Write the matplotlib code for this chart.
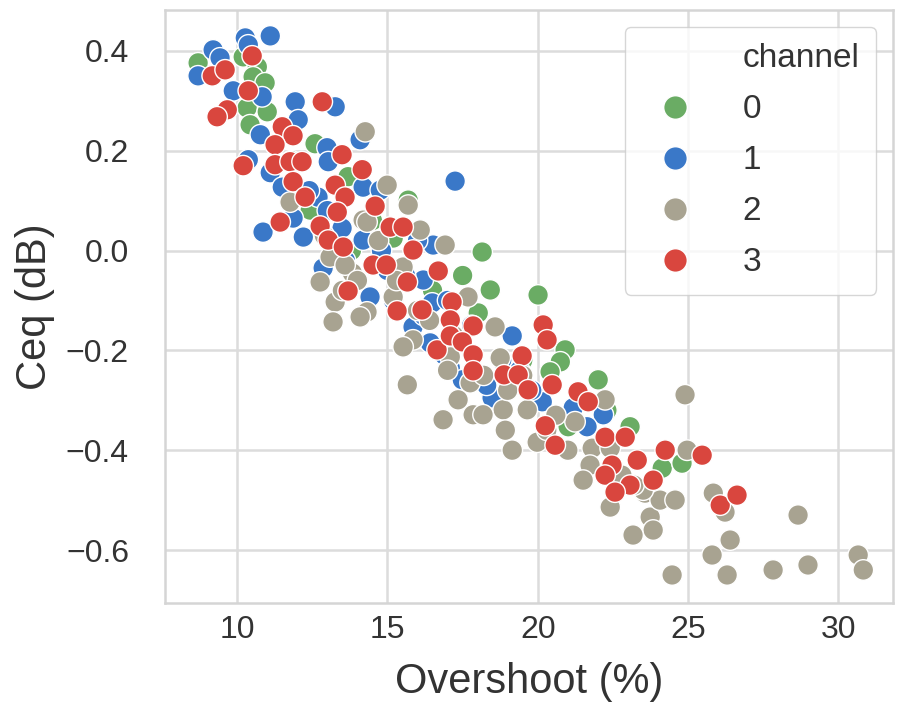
import matplotlib
matplotlib.use("Agg")
import matplotlib.pyplot as plt
from matplotlib.lines import Line2D
import pandas as pd
import seaborn as sns

# overshoot (%) and Ceq (dB), one pair of lists per channel
ch0_x = [8.70, 10.20, 10.67, 10.53, 10.93, 10.33, 11.00, 10.43, 12.59, 13.69, 12.43, 15.19,
         15.69, 18.15, 18.42, 18.02, 20.01, 20.91, 20.75, 20.41, 22.01, 21.01, 23.07, 24.14,
         24.80, 14.5, 16.5, 17.5, 19.5, 13.8, 22.3, 11.8, 16.0]
ch0_y = [0.376, 0.388, 0.368, 0.348, 0.336, 0.286, 0.278, 0.252, 0.214, 0.148, 0.081, 0.025,
         0.101, -0.003, -0.079, -0.125, -0.089, -0.199, -0.223, -0.243, -0.259, -0.353, -0.353, -0.436,
         -0.426, 0.06, -0.08, -0.05, -0.22, 0.0, -0.32, 0.18, 0.02]

ch1_x = [11.10, 10.27, 10.37, 9.20, 9.43, 8.70, 9.87, 10.83, 11.93, 12.03, 13.26, 10.77,
         12.99, 14.09, 10.37, 13.03, 11.10, 11.50, 12.69, 14.19, 14.76, 11.86, 10.86, 12.20,
         13.49, 14.19, 12.86, 16.52, 16.19, 14.42, 16.49, 15.85, 16.42, 17.25, 19.15, 17.09,
         17.49, 18.48, 20.08, 21.18, 22.18, 21.64, 20.15,
         14.8, 15.6, 16.0, 13.6, 17.8, 18.8, 19.8, 15.2, 17.0,
         16.2, 16.9, 18.3, 19.4, 15.0, 13.0, 12.4]
ch1_y = [0.430, 0.426, 0.412, 0.402, 0.386, 0.350, 0.320, 0.308, 0.298, 0.262, 0.288, 0.232,
         0.206, 0.222, 0.182, 0.178, 0.156, 0.127, 0.107, 0.127, 0.121, 0.065, 0.037, 0.027,
         0.045, 0.021, -0.035, 0.011, -0.059, -0.093, -0.105, -0.153, -0.185, 0.139, -0.171, -0.235,
         -0.259, -0.295, -0.299, -0.315, -0.329, -0.353, -0.303,
         0.0, -0.05, 0.02, -0.02, -0.15, -0.22, -0.28, -0.10, -0.10,
         -0.13, -0.21, -0.27, -0.24, -0.04, 0.08, 0.12]

ch2_x = [14.26, 14.99, 11.76, 15.69, 14.19, 14.32, 16.09, 16.92, 13.09, 13.83, 13.59, 12.76,
         15.52, 13.26, 15.19, 14.32, 14.09, 13.19, 15.85, 15.52, 17.68, 18.58, 18.75, 17.09,
         17.75, 15.66, 17.35, 18.85, 19.65, 16.85, 17.85, 18.18, 18.92, 19.98, 19.15, 22.24,
         21.24, 21.81, 22.41, 21.74, 21.51, 22.41, 23.74, 23.57, 24.07, 24.57, 24.97, 24.90,
         23.51, 23.84, 23.17, 24.47, 25.84, 26.23, 26.40, 25.80, 26.30, 27.83, 28.99, 28.66,
         30.66, 30.83,
         16.0, 17.2, 18.2, 19.5, 20.6, 21.0, 22.8, 23.2,
         12.9, 13.5, 14.0, 14.7, 15.3, 16.4, 17.0, 19.0, 20.3]
ch2_y = [0.238, 0.131, 0.097, 0.091, 0.061, 0.057, 0.041, 0.011, -0.013, -0.045, -0.029, -0.063,
         -0.033, -0.103, -0.093, -0.123, -0.133, -0.143, -0.179, -0.193, -0.093, -0.153, -0.215, -0.213,
         -0.265, -0.269, -0.299, -0.319, -0.319, -0.339, -0.329, -0.329, -0.360, -0.384, -0.400, -0.299,
         -0.343, -0.396, -0.396, -0.430, -0.460, -0.514, -0.534, -0.486, -0.500, -0.500, -0.400, -0.289,
         -0.480, -0.560, -0.570, -0.650, -0.486, -0.524, -0.580, -0.610, -0.650, -0.640, -0.630, -0.530,
         -0.610, -0.640,
         -0.12, -0.17, -0.25, -0.25, -0.33, -0.40, -0.45, -0.47,
         0.03, -0.08, -0.06, 0.02, -0.06, -0.14, -0.24, -0.28, -0.36]

ch3_x = [9.17, 9.60, 10.50, 10.37, 9.67, 9.33, 12.83, 11.50, 11.86, 11.26, 13.49, 10.20,
         11.26, 11.76, 12.16, 14.16, 11.86, 13.26, 13.59, 12.26, 14.59, 13.33, 11.43, 12.76,
         13.03, 13.53, 15.09, 15.52, 15.85, 13.69, 14.52, 14.96, 15.66, 16.69, 15.32, 16.15,
         17.15, 17.09, 17.85, 16.65, 17.09, 17.49, 17.85, 17.85, 19.48, 20.18, 20.31, 18.88,
         19.35, 19.68, 20.48, 21.34, 21.68, 20.25, 20.58, 22.24, 22.91, 22.47, 23.31, 24.24,
         25.47, 22.24, 23.07, 23.84, 22.57, 26.07, 26.63]
ch3_y = [0.350, 0.362, 0.390, 0.320, 0.282, 0.268, 0.298, 0.248, 0.230, 0.212, 0.192, 0.170,
         0.172, 0.178, 0.178, 0.162, 0.138, 0.131, 0.107, 0.107, 0.089, 0.077, 0.057, 0.049,
         0.021, 0.007, 0.047, 0.047, 0.001, -0.081, -0.029, -0.029, -0.063, -0.041, -0.121, -0.119,
         -0.103, -0.139, -0.151, -0.199, -0.171, -0.183, -0.209, -0.241, -0.211, -0.149, -0.179, -0.249,
         -0.249, -0.279, -0.269, -0.283, -0.303, -0.351, -0.390, -0.374, -0.374, -0.430, -0.420, -0.400,
         -0.410, -0.450, -0.470, -0.460, -0.484, -0.510, -0.490]

channels = [0, 1, 2, 3]
colors = ["#6aac64", "#3a78c8", "#a8a391", "#d9463e"]

xs = [ch0_x, ch1_x, ch2_x, ch3_x]
ys = [ch0_y, ch1_y, ch2_y, ch3_y]
rows = []
for c, xv, yv in zip(channels, xs, ys):
    for a, b in zip(xv, yv):
        rows.append((a, b, c))
df = pd.DataFrame(rows, columns=["Overshoot (%)", "Ceq (dB)", "channel"])

sns.set_theme(style="whitegrid")
plt.rcParams['font.family'] = ['Liberation Sans', 'DejaVu Sans']

fig = plt.figure(figsize=(8.97, 7.11), dpi=100)
ax = fig.add_axes([0.184, 0.152, 0.8116, 0.834])

pal = dict(zip(channels, colors))
sns.scatterplot(data=df, x="Overshoot (%)", y="Ceq (dB)", hue="channel", palette=pal,
                s=220, edgecolor="white", linewidth=1.0, ax=ax, legend=False)

ax.set_xlim(7.6, 31.82)
ax.set_ylim(-0.706, 0.482)
ax.set_xticks([10, 15, 20, 25, 30])
ax.set_yticks([-0.6, -0.4, -0.2, 0.0, 0.2, 0.4])
ax.set_yticklabels(["\u22120.6", "\u22120.4", "\u22120.2", "0.0", "0.2", "0.4"])
ax.tick_params(labelsize=23, colors="#333333")
ax.tick_params(axis="y", pad=20)
ax.tick_params(axis="x", pad=3)
ax.set_xlabel("Overshoot (%)", fontsize=30, color="#333333", labelpad=12)
ax.set_ylabel("Ceq (dB)", fontsize=30, color="#333333", labelpad=8)
ax.grid(color="#dcdcdc", linewidth=1.8)
for sp in ax.spines.values():
    sp.set_color("#d5d5d5")
    sp.set_linewidth(1.8)

handles = [Line2D([], [], linestyle="none", marker="")]
labels = ["channel"]
for c, col in zip(channels, colors):
    handles.append(Line2D([], [], linestyle="none", marker="o", markersize=17,
                          markerfacecolor=col, markeredgecolor="white"))
    labels.append(str(c))
leg = ax.legend(handles, labels, loc="upper right", fontsize=24, frameon=True,
                framealpha=0.8, borderpad=0.5, labelspacing=0.6, handletextpad=1.05)
leg.get_frame().set_edgecolor("#cccccc")
for t in leg.get_texts():
    t.set_color("#333333")

fig.savefig("out.png", dpi=100)
